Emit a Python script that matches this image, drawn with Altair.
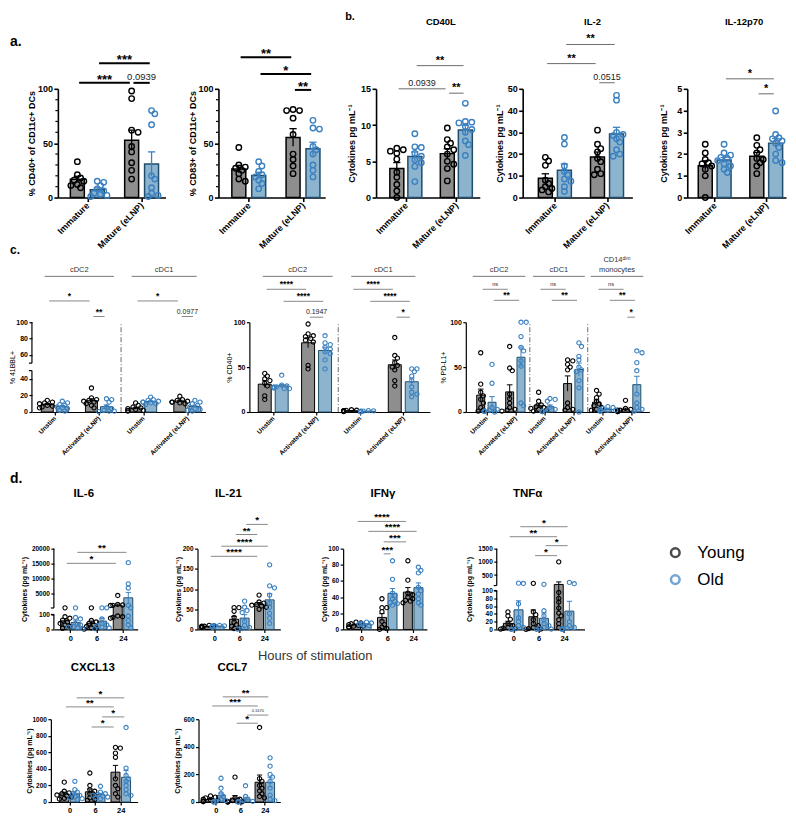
import altair as alt
import numpy as np
import pandas as pd

FONT = "Liberation Sans"
GREY = "#8e8e8e"
LBLUE = "#8db4cf"
NAVY = "#1f4d6b"
BLUE = "#3b80c0"
LINE = "#6b6b6b"

# ---------------- data ----------------
A_GROUPS = ["Immature", "Mature (eLNP)"]
A_CD40_YOUNG = [[33, 21, 18, 16, 15, 12, 11, 9], [98, 91, 62, 60, 47, 42, 32, 25, 17]]
A_CD40_OLD = [[15, 14, 11, 8, 6, 4, 3, 2, 1], [80, 77, 67, 20, 17, 9, 4, 2, 1]]
A_CD83_YOUNG = [[46, 30, 28, 27, 25, 22, 17, 15], [81, 80, 80, 73, 58, 40, 35, 29, 22]]
A_CD83_OLD = [[33, 29, 24, 21, 19, 16, 13, 8], [71, 64, 63, 47, 44, 40, 30, 25, 19]]

B_CD40L_YOUNG = [[6.8, 6.6, 6.4, 6.1, 5.3, 3.5, 2.8, 1.8, 0.9, 0.0], [9.6, 8.0, 7.5, 7.0, 6.6, 6.0, 5.0, 4.6, 4.0, 2.3]]
B_CD40L_OLD = [[8.8, 7.0, 6.9, 6.1, 5.7, 5.2, 4.8, 4.3, 2.2], [13.0, 10.5, 10.4, 10.3, 9.8, 9.4, 9.0, 7.8, 7.3, 5.8]]
B_IL2_YOUNG = [[18.5, 16.8, 14.8, 8.0, 6.5, 5.0, 4.2, 3.5, 2.6], [31.0, 24.5, 22.5, 21.0, 18.0, 16.5, 13.0, 11.0, 10.5]]
B_IL2_OLD = [[27.6, 24.6, 14.5, 12.0, 10.5, 8.5, 7.5, 5.0, 2.8], [47.0, 44.8, 30.0, 29.0, 28.5, 27.0, 25.5, 22.0, 20.0, 19.0]]
B_IL12_YOUNG = [[2.45, 2.05, 1.75, 1.6, 1.55, 1.45, 1.3, 1.0, 0.0], [2.75, 2.4, 2.2, 2.05, 1.8, 1.75, 1.6, 1.45, 1.1]]
B_IL12_OLD = [[2.45, 2.05, 1.95, 1.85, 1.8, 1.7, 1.55, 1.45, 1.3, 1.15], [3.98, 2.9, 2.75, 2.7, 2.6, 2.5, 2.3, 2.0, 1.7, 1.6]]

C_STIM = ["Unstim", "Activated (eLNP)"]
C_41BBL_YOUNG = [[14, 12, 11, 10, 8, 7, 6, 5], [29, 17, 15, 14, 13, 12, 10, 8, 5], [11, 8, 6, 5, 4, 3, 2, 2, 1], [19, 15, 14, 13, 12, 12, 11, 10]]
C_41BBL_OLD = [[13, 11, 9, 8, 6, 5, 4, 2, 1], [16, 15, 12, 6, 4, 2, 1, 1, 0.5], [18, 15, 14, 13, 12, 12, 11, 10, 9], [14, 12, 10, 8, 6, 4, 3, 2, 1]]
C_CD40_YOUNG = [[43, 40, 37, 35, 32, 29, 18, 14], [98, 87, 85, 84, 82, 80, 78, 52, 48], [2.5, 2, 1.8, 1.5, 1.2, 1, 0.8, 0.5], [83, 63, 60, 55, 52, 50, 47, 35, 29]]
C_CD40_OLD = [[41, 30, 29, 28, 28, 27, 27, 26, 26], [85, 77, 75, 72, 70, 67, 65, 58, 48], [1.5, 1.2, 1, 0.8, 0.6, 0.5, 0.4, 0.3], [48, 48, 45, 40, 35, 28, 22, 20, 17]]
C_PDL1_YOUNG = [[66, 31, 22, 18, 14, 10, 5, 2, 1], [73, 49, 46, 20, 15, 10, 5, 3, 2, 1], [22, 12, 8, 6, 5, 4, 3, 2, 1],
                [58, 57, 53, 50, 47, 10, 5, 3, 2], [24, 20, 16, 12, 9, 7, 5, 3, 2], [13, 4, 3, 2, 2, 1, 1, 0.5, 0.5]]
C_PDL1_OLD = [[53, 32, 5, 3, 2, 1, 1, 0.5, 0], [100, 100, 84, 72, 68, 57, 51, 10, 7], [15, 14, 12, 5, 3, 2, 1, 0.5, 0.5],
              [77, 73, 62, 58, 50, 47, 45, 35, 27, 0], [6, 5, 4, 3, 3, 2, 2, 1, 1], [68, 66, 55, 46, 20, 10, 5, 3, 1]]

D_HOURS = ["0", "6", "24"]
D_IL6_YOUNG = [[150, 85, 75, 62, 50, 40, 30, 20, 8], [150, 60, 50, 40, 30, 20, 10, 5, 2], [4300, 1300, 1100, 1000, 950, 90, 85, 80, 75]]
D_IL6_OLD = [[150, 80, 70, 40, 30, 20, 15, 10, 5], [150, 150, 70, 40, 30, 25, 15, 10, 5], [15300, 8200, 6800, 1000, 150, 90, 60, 30, 10]]
D_IL21_YOUNG = [[10, 9, 8, 8, 7, 6, 5, 5], [54, 54, 45, 30, 18, 12, 8, 4, 2], [85, 68, 65, 62, 60, 58, 55, 50]]
D_IL21_OLD = [[10, 9, 9, 8, 8, 7, 6, 6], [70, 55, 47, 42, 20, 10, 5, 2, 1], [160, 108, 103, 85, 65, 55, 40, 28, 15]]
D_IFNG_YOUNG = [[9, 8, 7, 6, 5, 4, 4, 3, 3], [38, 27, 27, 22, 10, 6, 3, 1, 0], [85, 61, 45, 43, 40, 38, 36, 35, 33]]
D_IFNG_OLD = [[9, 8, 7, 7, 6, 6, 5, 4], [85, 62, 45, 42, 38, 35, 33, 32, 30], [77, 73, 70, 52, 48, 44, 38, 33, 30]]
D_TNFA_YOUNG = [[45, 35, 26, 15, 10, 5, 3, 2, 1], [185, 45, 38, 25, 15, 10, 5, 2, 1, 0], [1000, 95, 80, 70, 55, 42, 35, 25, 15, 5]]
D_TNFA_OLD = [[190, 180, 66, 30, 20, 10, 5, 2, 1, 0], [145, 48, 35, 25, 15, 10, 5, 2, 1, 0], [220, 170, 40, 20, 10, 5, 3, 2, 1, 0]]
D_CXCL13_YOUNG = [[240, 130, 110, 100, 85, 75, 60, 45, 35], [350, 200, 150, 130, 100, 80, 50, 30, 20], [660, 650, 590, 540, 280, 200, 160, 100, 60]]
D_CXCL13_OLD = [[250, 150, 120, 100, 80, 60, 50, 40, 30], [190, 120, 100, 90, 80, 70, 60, 50, 40], [900, 410, 320, 280, 250, 200, 150, 100, 80]]
D_CCL7_YOUNG = [[45, 35, 30, 20, 15, 10, 8, 5, 2], [180, 30, 20, 10, 5, 3, 2, 1, 0], [540, 170, 150, 120, 100, 80, 60, 40, 30]]
D_CCL7_OLD = [[172, 100, 60, 40, 20, 10, 5, 2, 0], [118, 40, 20, 10, 5, 3, 2, 1, 0], [320, 260, 200, 180, 150, 100, 50, 20, 10]]

# significance brackets: (group1, age1, group2, age2, level in data units, label)
BR_A_CD40 = [(0, "Y", 1, "Y", 105.5, "***"), (0, "O", 1, "O", 123.6, "***"), (1, "Y", 1, "O", 105.5, "0.0939")]
BR_A_CD83 = [(0, "Y", 1, "Y", 129, "**"), (0, "O", 1, "O", 113.6, "*"), (1, "Y", 1, "O", 99, "**")]
BR_B_CD40L = [(0, "Y", 1, "Y", 15.0, "0.0939"), (1, "Y", 1, "O", 14.4, "**"), (0, "O", 1, "O", 18.2, "**")]
BR_B_IL2 = [(0, "O", 1, "O", 70.4, "**"), (0, "Y", 1, "Y", 61.6, "**"), (1, "Y", 1, "O", 52.8, "0.0515")]
BR_B_IL12 = [(0, "O", 1, "O", 5.46, "*"), (1, "Y", 1, "O", 4.77, "*")]
BR_C_41BBL = [(0, "Y", 1, "Y", 126, "*"), (1, "Y", 1, "O", 107, "**"), (2, "Y", 3, "Y", 126, "*"), (3, "Y", 3, "O", 107, "0.0977")]
BR_C_CD40 = [(0, "Y", 1, "Y", 136.7, "****"), (0, "O", 1, "O", 123.3, "****"), (1, "Y", 1, "O", 105.6, "0.1947"),
             (2, "Y", 3, "Y", 136.7, "****"), (2, "O", 3, "O", 123.3, "****"), (3, "Y", 3, "O", 105.6, "*")]
BR_C_PDL1 = [(0, "Y", 1, "Y", 136.7, "ns"), (0, "O", 1, "O", 124.4, "**"), (2, "Y", 3, "Y", 136.7, "ns"),
             (2, "O", 3, "O", 124.4, "**"), (4, "Y", 5, "Y", 136.7, "ns"), (4, "O", 5, "O", 124.4, "**"),
             (5, "Y", 5, "O", 105.6, "*")]
BR_D_IL6 = [(0, "Y", 2, "Y", 15076, "*"), (0, "O", 2, "O", 18761, "**")]
BR_D_IL21 = [(1, "O", 2, "O", 260, "*"), (1, "Y", 2, "Y", 235, "**"), (0, "O", 2, "O", 206, "****"), (0, "Y", 2, "Y", 181, "****")]
BR_D_IFNG = [(0, "Y", 2, "Y", 133.7, "****"), (0, "O", 2, "O", 121.4, "****"), (1, "Y", 2, "Y", 108.4, "***"), (1, "Y", 1, "O", 93.6, "***")]
BR_D_TNFA = [(0, "O", 2, "O", 2332, "*"), (0, "Y", 2, "Y", 1953, "**"), (1, "O", 2, "O", 1613, "*"), (1, "Y", 2, "Y", 1235, "*")]
BR_D_CXCL13 = [(0, "O", 2, "O", 1258, "*"), (0, "Y", 2, "Y", 1149, "**"), (1, "O", 2, "O", 1028, "*"), (1, "Y", 2, "Y", 906, "*")]
BR_D_CCL7 = [(0, "O", 2, "O", 762, "**"), (0, "Y", 2, "Y", 696, "***"), (1, "O", 2, "O", 630, "0.1670"), (1, "Y", 2, "Y", 571, "*")]

DUM = pd.DataFrame({"k": [0]})


def note(text, x, y, size, weight="bold", align="center", baseline="middle", color="black"):
    return alt.Chart(DUM).mark_text(text=text, font=FONT, fontSize=size, fontWeight=weight, align=align,
                                    baseline=baseline, color=color).encode(x=alt.value(x), y=alt.value(y))


def swarm(ypx, diam, maxk=6):
    order = np.argsort(ypx)
    placed = []
    out = np.zeros(len(ypx))
    for i in order:
        y = ypx[i]
        cand = 0.0
        for k in range(maxk + 1):
            cand = 0.0 if k == 0 else ((k + 1) // 2) * diam * 0.55 * (1 if k % 2 else -1)
            if all((cand - px) ** 2 + (y - py) ** 2 >= (diam * 0.72) ** 2 for px, py in placed):
                break
        placed.append((cand, y))
        out[i] = cand
    return out


S1 = dict(aw=1.6, ts=4, lfs=9, tfs=9, tfw="bold", xfs=9, xangle=315, bw=14, bsw=1.5, cap=4, ew=1.3,
          psize=30, pw=1.4, diam=6.5, bc="black", blw=2, sfs=13, sdy=1)
S1b = dict(S1, bc=LINE, blw=1, sfs=11, sdy=-2)
S2 = dict(aw=1.2, ts=3, lfs=7, tfs=7, tfw="normal", xfs=6.5, xangle=315, bw=12, bsw=1, cap=3, ew=1,
          psize=18, pw=1.1, diam=5, bc=LINE, blw=0.8, sfs=8.5, sdy=-2)
S3 = dict(aw=1.2, ts=3, lfs=6.5, tfs=7, tfw="bold", xfs=7.5, xangle=0, bw=9, bsw=1, cap=3, ew=1,
          psize=18, pw=1.1, diam=5, bc=LINE, blw=0.8, sfs=10, sdy=-1)


def panel(young, old, brackets, st, *, axis_px, end_px, c0_px, step, off_px, height, ydom, yticks,
          ytitle, title_x, xexpr, yrng=None, bw=None, breaks=None, minor=None, dividers=None,
          extras=(), num_fs=9):
    lo = (axis_px - c0_px) / step
    hi = (end_px - c0_px) / step
    width = end_px - axis_px
    off = off_px / step
    bw = bw or st["bw"]
    rng = yrng if yrng else [height, 0]
    ypx = lambda v: np.interp(v, ydom, rng)
    n = len(young)

    srows, prow = [], []
    for age, sets, sgn in (("Young", young, -1), ("Old", old, 1)):
        for gi, vals in enumerate(sets):
            vals = np.asarray(vals, dtype=float)
            xc = gi + sgn * off
            m = float(vals.mean())
            s = float(vals.std(ddof=1) / np.sqrt(len(vals)))
            cap = st["cap"] / step
            srows.append(dict(age=age, x=xc, mean=m, lo=max(m - s, 0.0), hi=m + s, xl=xc - cap, xr=xc + cap, base=0.0))
            offs = swarm(ypx(vals), st["diam"])
            for v, o in zip(vals, offs):
                prow.append(dict(age=age, x=xc + o / step, v=float(v)))
    S = pd.DataFrame(srows)
    P = pd.DataFrame(prow)

    yscale = alt.Scale(domain=ydom, nice=False, zero=False, **({"range": yrng} if yrng else {}))
    xscale = alt.Scale(domain=[lo, hi], nice=False, zero=False)
    yaxis = alt.Axis(values=yticks, format="d", title=ytitle, grid=False, domain=breaks is None,
                     domainColor="black", domainWidth=st["aw"], tickColor="black", tickWidth=st["aw"],
                     tickSize=st["ts"], labelFont=FONT, labelFontSize=st["lfs"], labelFontWeight="bold",
                     labelColor="black", labelPadding=1.5, labelFlush=False, labelOverlap=False,
                     titleFont=FONT, titleFontSize=st["tfs"], titleFontWeight=st["tfw"], titleColor="black",
                     titleX=title_x, titleY=height / 2, titleAngle=270, titleAlign="center",
                     titleBaseline="middle")
    rot = st["xangle"] != 0
    xaxis = alt.Axis(values=list(range(n)), labelExpr=xexpr, title=None, grid=False, domainColor="black",
                     domainWidth=st["aw"], tickColor="black", tickWidth=st["aw"], tickSize=st["ts"],
                     labelFont=FONT, labelFontSize=st["xfs"], labelFontWeight="bold", labelColor="black",
                     labelAngle=st["xangle"], labelAlign="right" if rot else "center",
                     labelBaseline="middle" if rot else "top", labelPadding=2, labelFlush=False,
                     labelOverlap=False)
    X = lambda f: alt.X(f, type="quantitative", scale=xscale, axis=xaxis)
    Y = lambda f: alt.Y(f, type="quantitative", scale=yscale, axis=yaxis)

    layers = []
    for age, fill, stroke in (("Young", GREY, "black"), ("Old", LBLUE, NAVY)):
        d = S[S.age == age]
        layers.append(alt.Chart(d).mark_bar(width=bw, fill=fill, stroke=stroke, strokeWidth=st["bsw"])
                      .encode(x=X("x"), y=Y("mean"), y2=alt.Y2("base")))
    for age, ecol in (("Young", "black"), ("Old", BLUE)):
        d = S[S.age == age]
        layers.append(alt.Chart(d).mark_rule(color=ecol, strokeWidth=st["ew"])
                      .encode(x=X("x"), y=Y("lo"), y2=alt.Y2("hi")))
        layers.append(alt.Chart(d).mark_rule(color=ecol, strokeWidth=st["ew"])
                      .encode(x=X("xl"), x2=alt.X2("xr"), y=Y("hi")))
    for age, pcol in (("Young", "black"), ("Old", BLUE)):
        d = P[P.age == age]
        layers.append(alt.Chart(d).mark_point(shape="circle", filled=False, size=st["psize"],
                                              strokeWidth=st["pw"], color=pcol, opacity=1)
                      .encode(x=X("x"), y=Y("v")))

    if breaks is not None:
        segs = pd.DataFrame({"s": [b[0] for b in breaks], "e": [b[1] for b in breaks]})
        layers.append(alt.Chart(segs).mark_rule(color="black", strokeWidth=st["aw"])
                      .encode(x=alt.value(0), y=Y("s"), y2=alt.Y2("e")))
        caps = pd.DataFrame({"c": [breaks[0][1], breaks[1][0]]})
        layers.append(alt.Chart(caps).mark_rule(color="black", strokeWidth=st["aw"])
                      .encode(x=alt.value(-st["ts"]), x2=alt.value(0), y=Y("c")))
    if minor is not None:
        mt = pd.DataFrame({"m": minor})
        layers.append(alt.Chart(mt).mark_rule(color="black", strokeWidth=1.2)
                      .encode(x=alt.value(-2.5), x2=alt.value(0), y=Y("m")))
    if dividers is not None:
        dv = pd.DataFrame({"d": dividers, "y0": [ydom[0]] * len(dividers), "y1": [ydom[-1]] * len(dividers)})
        layers.append(alt.Chart(dv).mark_rule(color="#444", strokeWidth=0.8, strokeDash=[5, 2, 1, 2])
                      .encode(x=X("d"), y=Y("y0"), y2=alt.Y2("y1")))

    brows = []
    sh = 2.0 / step
    for g1, a1, g2, a2, lev, lab in brackets:
        x1 = g1 + (-off if a1 == "Y" else off)
        x2 = g2 + (-off if a2 == "Y" else off)
        fs = st["sfs"] if "*" in lab else (num_fs * 0.8 if lab == "ns" else num_fs)
        brows.append(dict(x1=x1 + sh, x2=x2 - sh, xm=(x1 + x2) / 2, y=lev, label=lab, star="*" in lab, fs=fs))
    B = pd.DataFrame(brows)
    layers.append(alt.Chart(B).mark_rule(color=st["bc"], strokeWidth=st["blw"])
                  .encode(x=X("x1"), x2=alt.X2("x2"), y=Y("y")))
    bs = B[B.star]
    if len(bs):
        layers.append(alt.Chart(bs).mark_text(font=FONT, fontWeight="bold", baseline="alphabetic",
                                              dy=st["sdy"], color="black")
                      .encode(x=X("xm"), y=Y("y"), text="label:N", size=alt.Size("fs:Q", scale=None, legend=None)))
    bn = B[~B.star]
    if len(bn):
        layers.append(alt.Chart(bn).mark_text(font=FONT, baseline="alphabetic", dy=-3, color="#222")
                      .encode(x=X("xm"), y=Y("y"), text="label:N", size=alt.Size("fs:Q", scale=None, legend=None)))

    for e in extras:
        layers.append(e(X) if callable(e) else e)
    return alt.layer(*layers).properties(width=width, height=height)


def headers(spans, labels):
    def mk(X):
        df = pd.DataFrame({"x1": [s[0] for s in spans], "x2": [s[1] for s in spans],
                           "xm": [(s[0] + s[1]) / 2 for s in spans], "label": labels})
        r = alt.Chart(df).mark_rule(color="#555", strokeWidth=0.8).encode(x=X("x1"), x2=alt.X2("x2"), y=alt.value(-46))
        t = alt.Chart(df[df.label != ""]).mark_text(font=FONT, fontSize=7.5, color="#333", baseline="middle").encode(
            x=X("xm"), y=alt.value(-52), text="label:N")
        return alt.layer(r, t)
    return mk


def header_text(x_unit, text, y, size=7.5):
    def mk(X):
        df = pd.DataFrame({"xm": [x_unit], "label": [text]})
        return alt.Chart(df).mark_text(font=FONT, fontSize=size, color="#333", baseline="middle").encode(
            x=X("xm"), y=alt.value(y), text="label:N")
    return mk


def spacer(w, h):
    return alt.Chart(DUM).mark_point(opacity=0, size=1).encode(x=alt.value(0), y=alt.value(0)).properties(width=w, height=h)


A_EXPR = "['Immature','Mature (eLNP)'][datum.value]"
C_EXPR = "datum.value % 2 == 0 ? 'Unstim' : 'Activated (eLNP)'"
D_EXPR = "['0','6','24'][datum.value]"
CYT_B = "Cytokines pg mL\u207b\u00b9"
CYT_D = "Cytokines (pg mL\u207b\u00b9)"

# ---------------- row 1 ----------------
aL = panel(A_CD40_YOUNG, A_CD40_OLD, BR_A_CD40, S1, axis_px=57, end_px=165, c0_px=84, step=60, off_px=11,
           height=109, ydom=[0, 100], yticks=[0, 50, 100], ytitle="% CD40+ of CD11c+ DCs", title_x=-26,
           xexpr=A_EXPR, minor=[10, 20, 30, 40, 60, 70, 80, 90], num_fs=9.5,
           extras=[note("a.", -48, -47, 14, align="left")])
aR = panel(A_CD83_YOUNG, A_CD83_OLD, BR_A_CD83, S1, axis_px=218, end_px=325, c0_px=246, step=60, off_px=11,
           height=109, ydom=[0, 100], yticks=[0, 50, 100], ytitle="% CD83+ of CD11c+ DCs", title_x=-26,
           xexpr=A_EXPR, minor=[10, 20, 30, 40, 60, 70, 80, 90], num_fs=9.5)
bA = panel(B_CD40L_YOUNG, B_CD40L_OLD, BR_B_CD40L, S1b, axis_px=376, end_px=480, c0_px=403.5, step=56, off_px=10,
           height=109, ydom=[0, 15], yticks=[0, 5, 10, 15], ytitle=CYT_B, title_x=-25, xexpr=A_EXPR, num_fs=9,
           extras=[note("b.", -31, -72, 11, align="left"), note("CD40L", 65, -67, 9.5)])
bB = panel(B_IL2_YOUNG, B_IL2_OLD, BR_B_IL2, S1b, axis_px=523, end_px=633, c0_px=553, step=57.5, off_px=10.5,
           height=109, ydom=[0, 50], yticks=[0, 10, 20, 30, 40, 50], ytitle=CYT_B, title_x=-23, xexpr=A_EXPR,
           num_fs=9, extras=[note("IL-2", 70, -67, 9.5)])
bC = panel(B_IL12_YOUNG, B_IL12_OLD, BR_B_IL12, S1b, axis_px=688, end_px=787, c0_px=713, step=57.5, off_px=10.5,
           height=109, ydom=[0, 5], yticks=[0, 1, 2, 3, 4, 5], ytitle=CYT_B, title_x=-24, xexpr=A_EXPR,
           num_fs=9, extras=[note("IL-12p70", 57, -67, 9.5)])

# ---------------- row 2 ----------------
c1 = panel(C_41BBL_YOUNG, C_41BBL_OLD, BR_C_41BBL, S2, axis_px=31, end_px=205, c0_px=50, step=47, off_px=8,
           height=90, ydom=[0, 50, 50.01, 100], yrng=[90, 48.5, 41, 0], yticks=[0, 20, 40, 60, 80, 100],
           ytitle="% 41BBL+", title_x=-19, xexpr=C_EXPR, breaks=[(0, 50), (50.01, 100)], dividers=[1.5],
           num_fs=7, extras=[headers([(-0.23, 1.34), (1.74, 3.21)], ["cDC2", "cDC1"]),
                             note("c.", -22, -72, 12, align="left")])
c2 = panel(C_CD40_YOUNG, C_CD40_OLD, BR_C_CD40, S2, axis_px=249, end_px=430, c0_px=269, step=46, off_px=9,
           height=90, ydom=[0, 100], yticks=[0, 50, 100], ytitle="% CD40+", title_x=-20, xexpr=C_EXPR,
           bw=13, dividers=[1.5], num_fs=7,
           extras=[headers([(-0.24, 1.37), (1.8, 3.28)], ["cDC2", "cDC1"])])
c3 = panel(C_PDL1_YOUNG, C_PDL1_OLD, BR_C_PDL1, S2, axis_px=466, end_px=650, c0_px=482.5, step=30.7, off_px=6,
           height=90, ydom=[0, 100], yticks=[0, 50, 100], ytitle="% PD-L1+", title_x=-22, xexpr=C_EXPR,
           bw=8, dividers=[1.5, 3.5], num_fs=7,
           extras=[headers([(-0.47, 1.35), (1.61, 3.4), (3.6, 5.42)], ["cDC2", "cDC1", ""]),
                   header_text(4.51, "CD14\u1d48\u2071\u1d50", -62), header_text(4.51, "monocytes", -52)])

# ---------------- row 3 ----------------
d1 = panel(D_IL6_YOUNG, D_IL6_OLD, BR_D_IL6, S3, axis_px=53, end_px=137, c0_px=66, step=30, off_px=6,
           height=81, ydom=[0, 100, 100.01, 20000], yrng=[81, 66, 59.5, 0],
           yticks=[0, 100, 5000, 10000, 15000, 20000], ytitle=CYT_D, title_x=-29, xexpr=D_EXPR,
           breaks=[(0, 100), (100.01, 20000)],
           extras=[note("IL-6", 30, -55, 11.5), note("d.", -44, -70, 14, align="left")])
d2 = panel(D_IL21_YOUNG, D_IL21_OLD, BR_D_IL21, S3, axis_px=197, end_px=280, c0_px=210.5, step=28.5, off_px=6,
           height=81, ydom=[0, 200], yticks=[0, 50, 100, 150, 200], ytitle=CYT_D, title_x=-19, xexpr=D_EXPR,
           extras=[note("IL-21", 31, -55, 11.5)])
d3 = panel(D_IFNG_YOUNG, D_IFNG_OLD, BR_D_IFNG, S3, axis_px=343, end_px=427, c0_px=358, step=29.5, off_px=6,
           height=81, ydom=[0, 100], yticks=[0, 20, 40, 60, 80, 100], ytitle=CYT_D, title_x=-19, xexpr=D_EXPR,
           extras=[note("IFN\u03b3", 40, -55, 11.5),
                   note("Hours of stimulation", -28, 108, 13, weight="normal", color="#333")])
d4 = panel(D_TNFA_YOUNG, D_TNFA_OLD, BR_D_TNFA, S3, axis_px=497, end_px=585, c0_px=510, step=28.75, off_px=6,
           height=81, ydom=[0, 100, 100.01, 1500], yrng=[81, 42, 37, 0],
           yticks=[0, 20, 40, 60, 80, 100, 500, 1000, 1500], ytitle=CYT_D, title_x=-27, xexpr=D_EXPR,
           breaks=[(0, 100), (100.01, 1500)], extras=[note("TNF\u03b1", 31, -55, 11.5)])

LEG = pd.DataFrame({"age": ["Young", "Old"]})
leg_y = alt.Y("age:N", sort=["Young", "Old"], scale=alt.Scale(type="point", range=[4, 31], padding=0), axis=None)
legend = alt.layer(
    alt.Chart(LEG).mark_point(shape="circle", filled=False, size=75, strokeWidth=2.5).encode(
        x=alt.value(8), y=leg_y,
        color=alt.Color("age:N", scale=alt.Scale(domain=["Young", "Old"], range=["black", BLUE]), legend=None)),
    alt.Chart(LEG).mark_text(align="left", baseline="middle", fontSize=17, font=FONT, color="black").encode(
        x=alt.value(30), y=leg_y, text="age:N"),
).properties(width=100, height=81)

# ---------------- row 4 ----------------
e1 = panel(D_CXCL13_YOUNG, D_CXCL13_OLD, BR_D_CXCL13, S3, axis_px=50, end_px=137, c0_px=65.5, step=29, off_px=6,
           height=83, ydom=[0, 1000], yticks=[0, 200, 400, 600, 800, 1000], ytitle=CYT_D, title_x=-21,
           xexpr=D_EXPR, extras=[note("CXCL13", 42, -51, 11.5)])
e2 = panel(D_CCL7_YOUNG, D_CCL7_OLD, BR_D_CCL7, S3, axis_px=198, end_px=280, c0_px=212, step=28, off_px=6,
           height=83, ydom=[0, 600], yticks=[0, 200, 400, 600], ytitle=CYT_D, title_x=-21, xexpr=D_EXPR,
           num_fs=4, extras=[note("CCL7", 34, -51, 11.5)])


def row(*items):
    return alt.hconcat(*items, spacing=0, bounds="flush").resolve_scale(
        x="independent", y="independent", color="independent", size="independent").resolve_axis(
        x="independent", y="independent")


row1 = row(spacer(49, 10), aL, spacer(53, 10), aR, spacer(51, 10), bA, spacer(43, 10), bB, spacer(55, 10), bC)
row2 = row(spacer(23, 10), c1, spacer(44, 10), c2, spacer(36, 10), c3)
row3 = row(spacer(45, 10), d1, spacer(60, 10), d2, spacer(63, 10), d3, spacer(70, 10), d4, spacer(83, 10), legend)
row4 = row(spacer(42, 10), e1, spacer(61, 10), e2)

# nested rows count as zero height in the flush layout, so each vertical spacer spans row + gap
chart = alt.vconcat(spacer(10, 79), row1, spacer(10, 109 + 125), row2, spacer(10, 90 + 137), row3,
                    spacer(10, 81 + 90), row4, spacing=0, bounds="flush").resolve_scale(
    x="independent", y="independent", color="independent", size="independent").resolve_axis(
    x="independent", y="independent").properties(padding=0, background="white").configure(
    font=FONT).configure_view(stroke=None)

chart.save("out.html", embed_options={"renderer": "svg", "actions": False})
